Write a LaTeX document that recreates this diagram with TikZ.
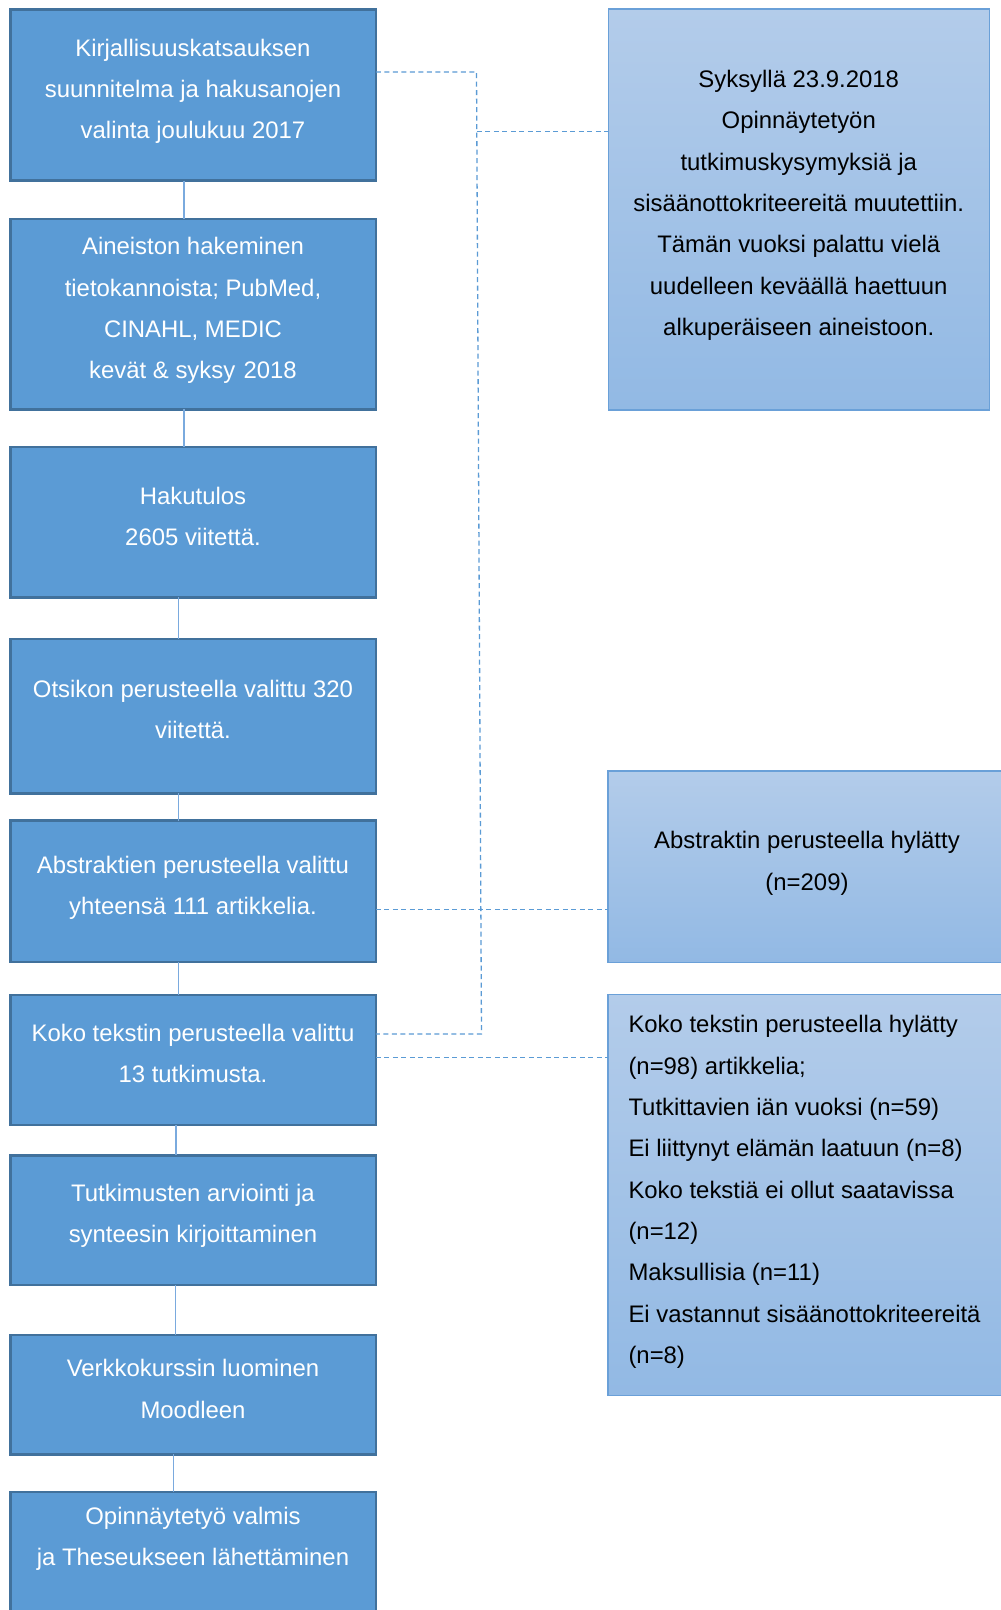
\documentclass[tikz,border=0pt]{standalone}
\usepackage{fontspec}
\setmainfont{Liberation Sans}
\definecolor{boxfill}{RGB}{91,155,213}
\definecolor{boxedge}{RGB}{65,113,156}
\definecolor{connc}{RGB}{122,170,222}
\definecolor{dashc}{RGB}{91,155,213}
\definecolor{sidetop}{RGB}{179,204,234}
\definecolor{sidebot}{RGB}{146,185,228}
\definecolor{sideedge}{RGB}{106,160,216}
\tikzset{
  mainbox/.style={rectangle, inner sep=0pt, outer sep=0pt, fill=boxfill, draw=boxedge, line width=2.5pt, minimum width=365.5pt},
  sidebox/.style={rectangle, inner sep=0pt, outer sep=0pt, top color=sidetop, bottom color=sidebot, draw=sideedge, line width=1.5pt},
  maintext/.style={text=white, align=center, inner sep=0pt, font=\fontsize{23.9pt}{41.3pt}\selectfont},
  sidetext/.style={text=black, align=center, inner sep=0pt, font=\fontsize{23.9pt}{41.3pt}\selectfont},
  conn/.style={draw=connc, line width=1.6pt},
  dconn/.style={draw=dashc, line width=1.3pt, dash pattern=on 5pt off 3.5pt}
}
\begin{document}
\begin{tikzpicture}[x=1pt,y=-1pt]
\clip (0,0) rectangle (1001,1610);
\fill[white] (0,0) rectangle (1001,1610);
% main boxes
\node[mainbox, minimum height=171pt] (b1) at (193,95.1) {};
\node[mainbox, minimum height=190.5pt] (b2) at (193,314.2) {};
\node[mainbox, minimum height=150.5pt] (b3) at (193,522.1) {};
\node[mainbox, minimum height=154.5pt] (b4) at (193,716.2) {};
\node[mainbox, minimum height=141.2pt] (b5) at (193,891.2) {};
\node[mainbox, minimum height=130pt] (b6) at (193,1060) {};
\node[mainbox, minimum height=129.9pt] (b7) at (193,1220.2) {};
\node[mainbox, minimum height=119.2pt] (b8) at (193,1394.8) {};
\node[mainbox, minimum height=130pt] (b9) at (193,1557) {};
% texts
\node[maintext] (t1) at (193,91.3) {Kirjallisuuskatsauksen\\suunnitelma ja hakusanojen\\valinta joulukuu 2017};
\node[maintext] (t2) at (193,310.7) {Aineiston hakeminen\\tietokannoista; PubMed,\\CINAHL, MEDIC\\kevät \& syksy\hspace{0.35em}2018};
\node[maintext] (t3) at (193,516.4) {Hakutulos\\2605 viitettä.};
\node[maintext] (t4) at (193,709.4) {Otsikon perusteella valittu 320\\viitettä.};
\node[maintext] (t5) at (193,888) {Abstraktien perusteella valittu\\yhteensä 111 artikkelia.};
\node[maintext] (t6) at (193,1053.4) {Koko tekstin perusteella valittu\\13 tutkimusta.};
\node[maintext] (t7) at (193,1215.5) {Tutkimusten arviointi ja\\synteesin kirjoittaminen};
\node[maintext] (t8) at (193,1389) {Verkkokurssin luominen\\Moodleen};
\node[maintext] (t9) at (193,1539) {Opinnäytetyö valmis\\ja Theseukseen lähettäminen};
% side boxes
\node[sidebox, minimum width=381pt, minimum height=401pt] (sA) at (798.75,209.5) {};
\node[sidebox, minimum width=398pt, minimum height=191.5pt] (sB) at (806.9,866.5) {};
\node[sidebox, minimum width=398pt, minimum height=401pt] (sC) at (806.9,1195) {};
\node[sidetext] (tA) at (798.75,205.3) {Syksyllä 23.9.2018\\Opinnäytetyön\\tutkimuskysymyksiä ja\\sisäänottokriteereitä muutettiin.\\Tämän vuoksi palattu vielä\\uudelleen keväällä haettuun\\alkuperäiseen aineistoon.};
\node[sidetext] (tB) at (807,863.4) {Abstraktin perusteella hylätty\\(n=209)};
\node[sidetext, align=left, anchor=west] (tC) at (628.3,1191.9) {Koko tekstin perusteella hylätty\\(n=98) artikkelia;\\Tutkittavien iän vuoksi (n=59)\\Ei liittynyt elämän laatuun (n=8)\\Koko tekstiä ei ollut saatavissa\\(n=12)\\Maksullisia (n=11)\\Ei vastannut sisäänottokriteereitä\\(n=8)};
% solid connectors
\draw[conn] ([xshift=-9.2pt]b1.south) -- ([xshift=-9.2pt]b2.north);
\draw[conn] ([xshift=-9.2pt]b2.south) -- ([xshift=-9.2pt]b3.north);
\draw[conn] ([xshift=-14.4pt]b3.south) -- ([xshift=-14.4pt]b4.north);
\draw[conn] ([xshift=-14.4pt]b4.south) -- ([xshift=-14.4pt]b5.north);
\draw[conn] ([xshift=-14.4pt]b5.south) -- ([xshift=-14.4pt]b6.north);
\draw[conn] ([xshift=-17pt]b6.south) -- ([xshift=-17pt]b7.north);
\draw[conn] ([xshift=-17.4pt]b7.south) -- ([xshift=-17.4pt]b8.north);
\draw[conn] ([xshift=-19.5pt]b8.south) -- ([xshift=-19.5pt]b9.north);
% dashed connectors
\coordinate (v1) at (476.5,71.9);
\coordinate (vA) at (476.8,131.4);
\coordinate (v2) at (481.5,1033.9);
\draw[dconn] (b1.east |- v1) -- (v1) -- (v2) -- (b6.east |- v2);
\draw[dconn] (vA) -- (sA.west |- vA);
\coordinate (hB) at (400,909.7);
\draw[dconn] (b5.east |- hB) -- (sB.west |- hB);
\coordinate (hC) at (400,1057.5);
\draw[dconn] (b6.east |- hC) -- (sC.west |- hC);
\end{tikzpicture}
\end{document}
